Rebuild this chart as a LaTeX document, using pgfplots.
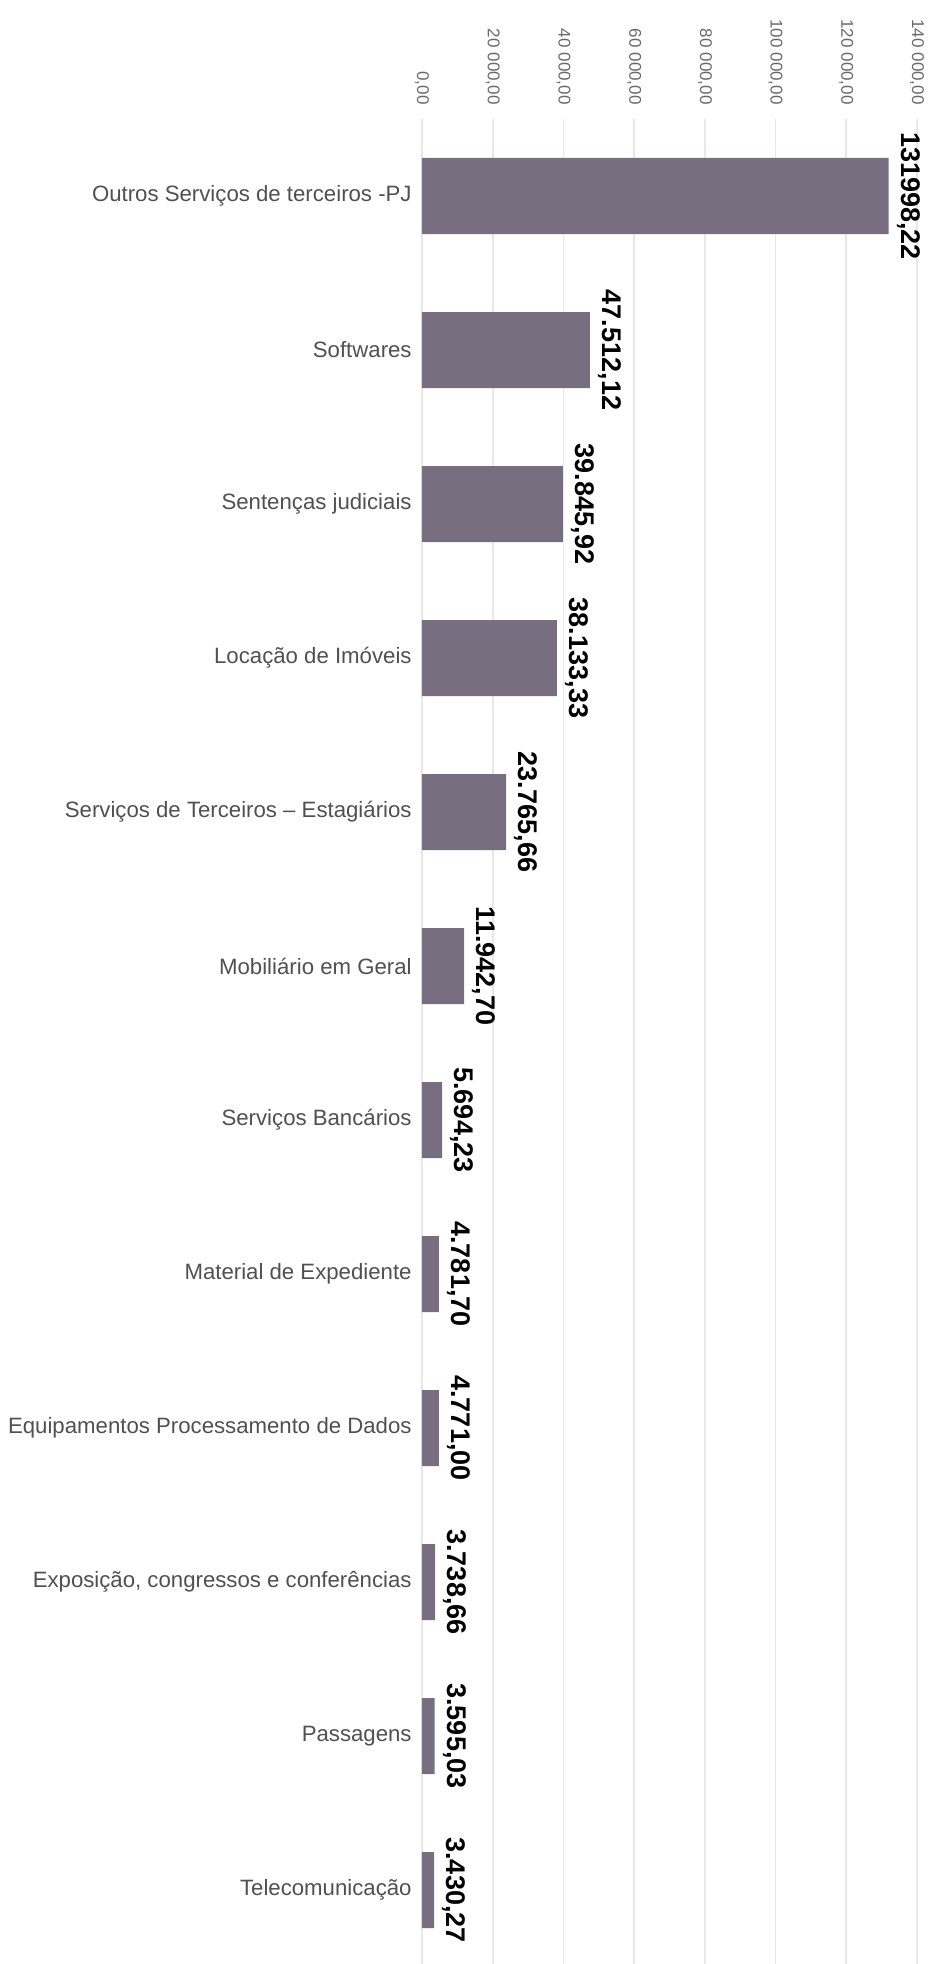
\documentclass[border=0pt]{standalone}
\usepackage{pgfplots}
\pgfplotsset{compat=1.18}
\usepackage{pgfplotstable}
\usepackage{fontspec}
\setmainfont{Liberation Sans}

\definecolor{barcol}{RGB}{120,110,127}
\definecolor{gridcol}{RGB}{232,232,232}
\definecolor{catcol}{RGB}{80,80,80}
\definecolor{tickcol}{RGB}{105,105,105}

\pgfplotstableread[col sep=semicolon]{
idx;val;lbl
0;131998.22;131998,22
1;47512.12;47.512,12
2;39845.92;39.845,92
3;38133.33;38.133,33
4;23765.66;23.765,66
5;11942.70;11.942,70
6;5694.23;5.694,23
7;4781.70;4.781,70
8;4771.00;4.771,00
9;3738.66;3.738,66
10;3595.03;3.595,03
11;3430.27;3.430,27
}\gastos

\begin{document}
\begin{tikzpicture}
\useasboundingbox (0,0) rectangle (465.5pt,982pt);
\begin{axis}[
    at={(211pt,-1.5pt)}, anchor=south west,
    scale only axis,
    width=247.5pt, height=924pt,
    xbar, bar width=38pt,
    y dir=reverse,
    xmin=0, xmax=140000,
    ymin=-0.5, ymax=11.5,
    axis line style={draw=none},
    major tick length=0pt,
    scaled x ticks=false,
    xmajorgrids, grid style={gridcol, line width=0.8pt},
    xtick={0,20000,40000,60000,80000,100000,120000,140000},
    xticklabels={{0,00}, {20 000,00}, {40 000,00}, {60 000,00}, {80 000,00}, {100 000,00}, {120 000,00}, {140 000,00}},
    xticklabel pos=upper,
    xticklabel style={rotate=-90, anchor=east, inner sep=0pt, font=\fontsize{8.5}{10}\selectfont, text=tickcol},
    xticklabel shift=7pt,
    ytick={0,...,11},
    yticklabels={Outros Serviços de terceiros -PJ, Softwares, Sentenças judiciais, Locação de Imóveis,
        Serviços de Terceiros – Estagiários, Mobiliário em Geral, Serviços Bancários,
        Material de Expediente, Equipamentos Processamento de Dados,
        {Exposição, congressos e conferências}, Passagens, Telecomunicação},
    yticklabel style={inner sep=0pt, xshift=-5pt, font=\fontsize{11.1}{13}\selectfont, text=catcol},
    nodes near coords,
    point meta=explicit symbolic,
    every node near coord/.append style={rotate=-90, anchor=south, inner sep=4pt,
        font=\fontsize{13.5}{15}\selectfont\bfseries, text=black},
]
\addplot[fill=barcol, draw=none] table[x=val, y=idx, meta=lbl] {\gastos};
\end{axis}
\end{tikzpicture}
\end{document}
